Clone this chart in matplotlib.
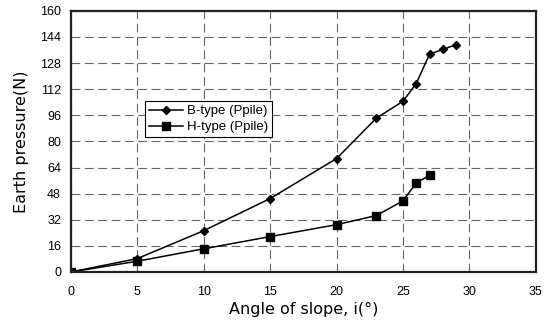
import matplotlib
matplotlib.use("Agg")
import matplotlib.pyplot as plt

plt.rcParams['font.family'] = ['Liberation Sans', 'DejaVu Sans']

# du lieu doc tu hinh
b_x = [0, 5, 10, 15, 20, 23, 25, 26, 27, 28, 29]
b_y = [0, 8.2, 25.3, 45, 69.5, 94.3, 104.6, 115.5, 133.5, 136.4, 139.3]
h_x = [0, 5, 10, 15, 20, 23, 25, 26, 27]
h_y = [0, 6.6, 14.2, 21.7, 29, 34.6, 43.6, 54.7, 59.2]

fig = plt.figure(figsize=(5.53, 3.2), dpi=100)
ax = fig.add_axes([0.128, 0.15, 0.841, 0.816])

ax.plot(b_x, b_y, color='black', lw=1.1, marker='D', ms=4.5, label='B-type (Ppile)')
ax.plot(h_x, h_y, color='black', lw=1.1, marker='s', ms=6, label='H-type (Ppile)')

ax.set_xlim(0, 35)
ax.set_ylim(0, 160)
ax.set_xticks(range(0, 36, 5))
ax.set_yticks(range(0, 161, 16))
ax.grid(True, color='#666666', ls=(0, (8, 4)), lw=0.8)
ax.tick_params(length=0, labelsize=9)
ax.tick_params(axis='x', pad=10)
ax.tick_params(axis='y', pad=7)
for s in ax.spines.values():
    s.set_linewidth(1.6)
    s.set_color('#222222')

ax.set_xlabel('Angle of slope, i(°)', fontsize=11.5, family='DejaVu Sans', labelpad=3)
ax.set_ylabel('Earth pressure(N)', fontsize=11.5, family='DejaVu Sans', labelpad=8)

leg = ax.legend(loc='upper left', bbox_to_anchor=(0.145, 0.68), fontsize=9.5,
                frameon=True, fancybox=False, edgecolor='black', framealpha=1,
                borderpad=0.3, handlelength=2.6, handletextpad=0.3, labelspacing=0.3)
leg.get_frame().set_linewidth(0.8)

fig.savefig('out.png', dpi=100)
